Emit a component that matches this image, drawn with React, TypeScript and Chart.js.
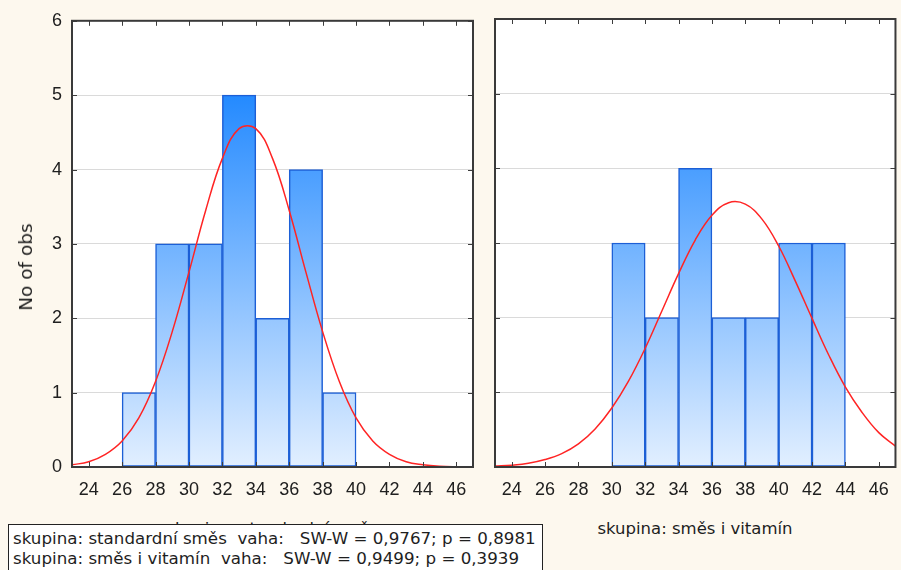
import React, { useEffect, useRef } from "react";
import { Chart, registerables } from "chart.js";

Chart.register(...registerables);

// ---- data ----
const binWidth = 2;
const binStartsLeft = [26, 28, 30, 32, 34, 36, 38];
const countsLeft = [1, 3, 3, 5, 2, 4, 1];
const binStartsRight = [30, 32, 34, 36, 38, 40, 42];
const countsRight = [3, 2, 4, 2, 2, 3, 3];

const curveX = [23, 24, 25, 26, 27, 28, 29, 30, 31, 32, 33, 34, 35, 36, 37, 38, 39, 40, 41, 42, 43, 44, 45, 46, 47];
const curveLeft = [0.03, 0.07, 0.17, 0.35, 0.66, 1.15, 1.82, 2.62, 3.45, 4.15, 4.55, 4.55, 4.15, 3.45, 2.62, 1.82, 1.15, 0.66, 0.35, 0.17, 0.07, 0.03, 0.01, 0.003, 0.001];
const curveRight = [0.012, 0.025, 0.05, 0.1, 0.18, 0.31, 0.51, 0.79, 1.15, 1.59, 2.09, 2.59, 3.04, 3.37, 3.54, 3.52, 3.32, 2.96, 2.49, 1.99, 1.5, 1.07, 0.73, 0.46, 0.28];

const xMin = 23;
const xMax = 47;
const xTickValues = [24, 26, 28, 30, 32, 34, 36, 38, 40, 42, 44, 46];
const yMin = 0;
const yMax = 6;

const yAxisTitle = "No of obs";
const titleLeft = "skupina: standardní směs";
const titleRight = "skupina: směs i vitamín";
const legendLines = [
  "skupina: standardní směs  vaha:   SW-W = 0,9767; p = 0,8981",
  "skupina: směs i vitamín  vaha:   SW-W = 0,9499; p = 0,3939",
];

const TEXT_FONT = "'DejaVu Sans', sans-serif";
const TICK_FONT = "'Liberation Sans', Arial, sans-serif";

const framePlugin = {
  id: "frameTicks",
  beforeDraw(chart: any) {
    const { ctx, chartArea } = chart;
    if (!chartArea) return;
    ctx.save();
    ctx.fillStyle = "#ffffff";
    ctx.fillRect(chartArea.left, chartArea.top, chartArea.right - chartArea.left, chartArea.bottom - chartArea.top);
    ctx.restore();
  },
  afterDraw(chart: any) {
    const { ctx, chartArea } = chart;
    const { left, right, top, bottom } = chartArea;
    const xs = chart.scales.x;
    const ys = chart.scales.y;
    ctx.save();
    ctx.strokeStyle = "#3c3c3c";
    ctx.lineWidth = 1;
    ctx.beginPath();
    xs.ticks.forEach((t: any) => {
      const px = Math.round(xs.getPixelForValue(t.value)) + 0.5;
      ctx.moveTo(px, bottom);
      ctx.lineTo(px, bottom - 5);
      ctx.moveTo(px, top);
      ctx.lineTo(px, top + 5);
    });
    ys.ticks.forEach((t: any) => {
      const py = Math.round(ys.getPixelForValue(t.value)) + 0.5;
      ctx.moveTo(left, py);
      ctx.lineTo(left + 5, py);
      ctx.moveTo(right, py);
      ctx.lineTo(right - 5, py);
    });
    ctx.stroke();
    ctx.lineWidth = 2;
    ctx.strokeStyle = "#3a3a3a";
    ctx.strokeRect(left, top, right - left, bottom - top);
    ctx.restore();
  },
};

function makeChart(
  canvas: HTMLCanvasElement,
  starts: number[],
  counts: number[],
  curve: number[],
  showY: boolean,
  padRight: number
) {
  const barData = starts.map((s, i) => ({ x: s + binWidth / 2, y: counts[i] }));
  const lineData = curveX.map((x, i) => ({ x, y: curve[i] }));
  return new Chart(canvas, {
    type: "bar",
    data: {
      datasets: [
        {
          type: "line",
          data: lineData,
          borderColor: "rgb(255,36,36)",
          borderWidth: 1.5,
          pointRadius: 0,
          tension: 0.4,
          fill: false,
          order: 0,
        } as any,
        {
          type: "bar",
          data: barData,
          backgroundColor: (c: any) => {
            const ch = c.chart;
            if (!ch.chartArea) return "rgb(120,180,255)";
            const y = ch.scales.y;
            const g = ch.ctx.createLinearGradient(0, y.getPixelForValue(5), 0, y.getPixelForValue(0));
            g.addColorStop(0, "rgb(36,138,255)");
            g.addColorStop(1, "rgb(226,239,255)");
            return g;
          },
          borderColor: "#1c5fd6",
          borderWidth: 1.5,
          borderSkipped: false,
          barPercentage: 1,
          categoryPercentage: 1,
          grouped: false,
          order: 1,
        } as any,
      ],
    },
    options: {
      animation: false,
      responsive: false,
      maintainAspectRatio: false,
      layout: { padding: { top: 19, right: padRight, left: 0, bottom: 0 } },
      plugins: { legend: { display: false }, tooltip: { enabled: false } },
      scales: {
        x: {
          type: "linear",
          offset: false,
          min: xMin,
          max: xMax,
          afterBuildTicks: (s: any) => {
            s.ticks = xTickValues.map((v) => ({ value: v }));
          },
          afterFit: (s: any) => {
            s.height = 33;
          },
          grid: { display: false, drawTicks: false, offset: false },
          border: { display: false },
          ticks: {
            padding: 12,
            color: "#202020",
            font: { family: TICK_FONT, size: 18 },
            autoSkip: false,
            maxRotation: 0,
          },
        },
        y: {
          type: "linear",
          min: yMin,
          max: yMax,
          afterFit: (s: any) => {
            s.width = showY ? 72 : 15;
          },
          grid: { color: "#dadada", lineWidth: 1, drawTicks: false },
          border: { display: false },
          ticks: {
            display: showY,
            stepSize: 1,
            padding: 10,
            color: "#202020",
            font: { family: TICK_FONT, size: 18 },
          },
        },
      },
    } as any,
    plugins: [framePlugin],
  });
}

export default function App() {
  const leftRef = useRef<HTMLCanvasElement>(null);
  const rightRef = useRef<HTMLCanvasElement>(null);

  useEffect(() => {
    const a = makeChart(leftRef.current!, binStartsLeft, countsLeft, curveLeft, true, 7);
    const b = makeChart(rightRef.current!, binStartsRight, countsRight, curveRight, false, 5);
    return () => {
      a.destroy();
      b.destroy();
    };
  }, []);

  const titleStyle: React.CSSProperties = {
    position: "absolute",
    top: 519,
    fontFamily: TEXT_FONT,
    fontSize: 16.5,
    lineHeight: "20px",
    color: "#1e1e1e",
    whiteSpace: "pre",
    transform: "translateX(-50%)",
  };

  return (
    <div
      style={{
        position: "fixed",
        left: 0,
        top: 0,
        width: 901,
        height: 570,
        background: "#fdf8ee",
        overflow: "hidden",
      }}
    >
      <canvas ref={leftRef} width={480} height={500} style={{ position: "absolute", left: 0, top: 0, width: 480, height: 500 }} />
      <canvas ref={rightRef} width={421} height={500} style={{ position: "absolute", left: 480, top: 0, width: 421, height: 500 }} />
      <div
        style={{
          position: "absolute",
          left: 26,
          top: 267,
          transform: "translate(-50%, -50%) rotate(-90deg)",
          fontFamily: TEXT_FONT,
          fontSize: 18.5,
          color: "#1e1e1e",
          whiteSpace: "pre",
          lineHeight: "22px",
        }}
      >
        {yAxisTitle}
      </div>
      <div style={{ ...titleStyle, left: 272 }}>{titleLeft}</div>
      <div style={{ ...titleStyle, left: 695 }}>{titleRight}</div>
      <div
        style={{
          position: "absolute",
          left: 8,
          top: 524,
          width: 535,
          height: 60,
          background: "#ffffff",
          border: "1.5px solid #222",
          boxSizing: "border-box",
          padding: "3px 0 0 4px",
          fontFamily: TEXT_FONT,
          fontSize: 16.7,
          lineHeight: "20px",
          color: "#1e1e1e",
          whiteSpace: "pre",
        }}
      >
        {legendLines.map((l, i) => (
          <div key={i}>{l}</div>
        ))}
      </div>
    </div>
  );
}
